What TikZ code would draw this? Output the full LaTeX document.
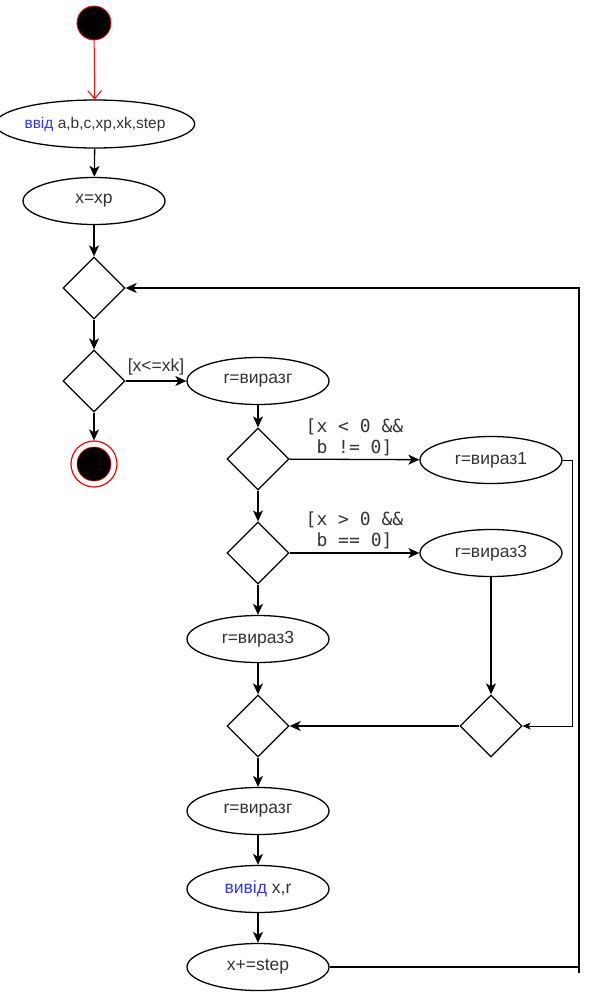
\documentclass[tikz,border=0pt]{standalone}
\usepackage{fontspec}
\setmainfont{Liberation Sans}
\newfontfamily\monofont{DejaVu Sans Mono}
\usetikzlibrary{shapes.geometric,arrows.meta}
\definecolor{txt}{RGB}{51,51,51}
\definecolor{kw}{RGB}{51,51,255}
\begin{document}
\begin{tikzpicture}[x=1pt,y=-1pt,
  every node/.style={text=txt},
  act/.style={ellipse, draw, line width=1.3pt, minimum width=142pt, minimum height=47pt, inner sep=0pt, font=\fontsize{17.5}{20}\selectfont},
  dec/.style={diamond, draw, line width=1.3pt, minimum width=62pt, minimum height=62pt, inner sep=0pt},
  flow/.style={line width=1.3pt, -{Stealth[length=11pt,width=10pt,inset=3pt]}},
  thinflow/.style={line width=0.8pt, -{Stealth[length=8pt,width=7pt,inset=2pt]}},
  mono/.style={font=\monofont\fontsize{18}{21}\selectfont, align=center, inner sep=1pt},
  lab/.style={font=\fontsize{17.5}{20}\selectfont, inner sep=1pt},
  startc/.style={circle, fill=black, draw=red, line width=0.8pt, minimum size=34pt, inner sep=0pt},
  endo/.style={circle, draw=red, line width=1.2pt, minimum size=46pt, inner sep=0pt},
  endi/.style={circle, fill=black, draw=red, line width=0.6pt, minimum size=34pt, inner sep=0pt}
]
\useasboundingbox (0,0) rectangle (593,994);
\node[startc] (s) at (94,23) {};
\node[act, minimum width=186pt, minimum height=48pt, font=\fontsize{15.5}{18}\selectfont] (in) at (95,124) {\textcolor{kw}{ввід} a,b,c,xp,xk,step};
\node[act] (x0) at (94,201) {x=xp};
\node[dec] (d1) at (94,288) {};
\node[dec] (d2) at (94,381) {};
\node[endo] (e) at (94,464) {};
\node[endi] (ei) at (94,464) {};
\node[act] (r1) at (258,381) {r=виразг};
\node[dec] (d3) at (258,459) {};
\node[act] (v1) at (491,460) {r=вираз1};
\node[dec] (d4) at (258,553) {};
\node[act] (v3r) at (491,553) {r=вираз3};
\node[act] (v3l) at (258,639) {r=вираз3};
\node[dec] (m1) at (258,726) {};
\node[dec] (m2) at (491,726) {};
\node[act] (r2) at (258,811) {r=виразг};
\node[act] (out) at (258,889) {\textcolor{kw}{вивід} x,r};
\node[act] (inc) at (258,967) {x+=step};
\coordinate (lp) at (579,967);

\draw[red, line width=1pt, -{Straight Barb[length=8pt,width=14pt]}] (s) -- (in);
\draw[flow] (in) -- (x0);
\draw[flow] (x0) -- (d1);
\draw[flow] (d1) -- (d2);
\draw[flow] (d2) -- (e);
\draw[flow] (d2) -- (r1) node[lab, midway, above=4pt] (l1) {[x<=xk]};
\draw[flow] (r1) -- (d3);
\draw[flow] (d3) -- (v1) node[mono, midway, above=2pt] (l2) {[x < 0 \&\&\\b != 0]};
\draw[flow] (d3) -- (d4);
\draw[flow] (d4) -- (v3r) node[mono, midway, above=2pt] (l3) {[x > 0 \&\&\\b == 0]};
\draw[flow] (d4) -- (v3l);
\draw[flow] (v3l) -- (m1);
\draw[flow] (v3r) -- (m2);
\draw[flow] (m2) -- (m1);
\draw[thinflow] (v1.east) -- ++(10,0) |- (m2.east);
\draw[flow] (m1) -- (r2);
\draw[flow] (r2) -- (out);
\draw[flow] (out) -- (inc);
\draw[flow] (inc.east) -- (lp) |- (d1.east);
\draw[line width=1.3pt] (lp) -- ++(0,6);
\end{tikzpicture}
\end{document}
